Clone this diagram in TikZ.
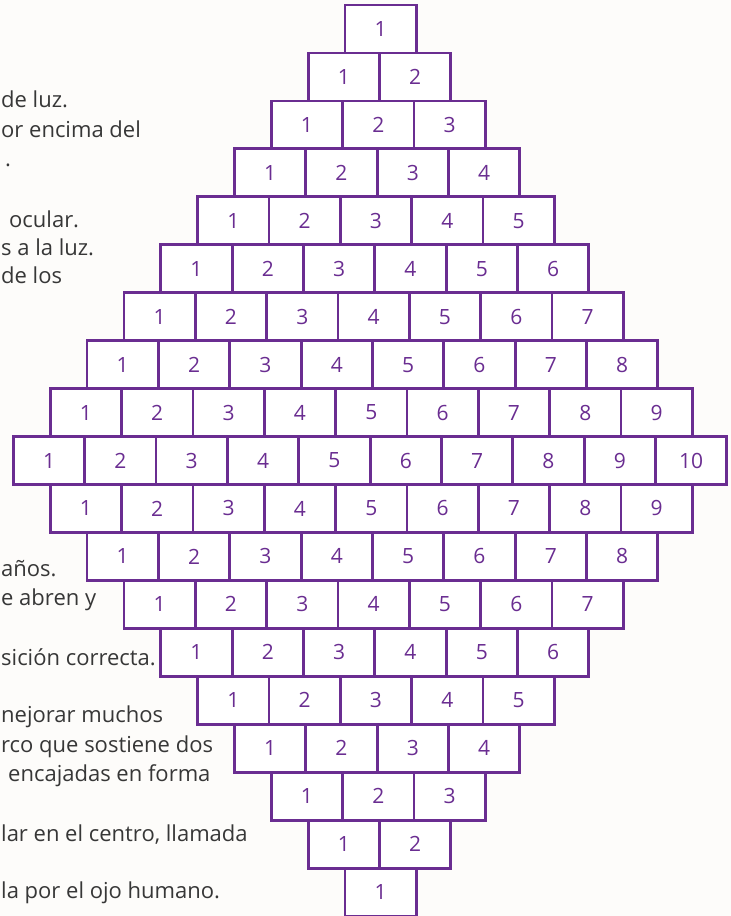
\documentclass[tikz,border=0pt]{standalone}
\usepackage{fontspec}
\setmainfont{Open Sans}
\usetikzlibrary{positioning,calc}
\definecolor{violeta}{RGB}{106,45,145}
\definecolor{texto}{RGB}{55,55,55}
\definecolor{fondo}{RGB}{253,252,250}

\begin{document}
\begin{tikzpicture}[x=1pt,y=-1pt,
  casilla/.style={draw=violeta,line width=2.8pt,fill=white,anchor=north west,
    minimum width=71.35pt,minimum height=47.95pt,inner sep=0pt,outer sep=0pt,
    text=violeta,font=\fontsize{21}{21}\selectfont},
  linea/.style={anchor=base west,inner sep=0pt,text=texto,font=\fontsize{22}{22}\selectfont}]
\fill[fondo] (0,0) rectangle (731,916);
\useasboundingbox (0,0) rectangle (731,916);
\foreach \t/\x/\y [count=\n] in {de luz./1/107,or encima del/1/137,./5/166,
  ocular./9/227,s a la luz./1/255,de los/1/283,años./1/576,e abren y/1/605,
  sición correcta./1/665,nejorar muchos/1/722,rco que sostiene dos/1/752,
  encajadas en forma/8/781,{lar en el centro, llamada}/1/841,la por el ojo humano./1/898}
  \node[linea] (t\n) at (\x,\y) {\t};

\foreach \r in {1,...,19}{
  \pgfmathtruncatemacro\k{\r<11 ? \r : 20-\r}
  \foreach \i in {1,...,\k}
    \node[casilla] (c\r-\i) at ({345-(\k-1)*36.85+(\i-1)*71.35},{5+(\r-1)*47.95}) {\i};
}
\end{tikzpicture}
\end{document}
